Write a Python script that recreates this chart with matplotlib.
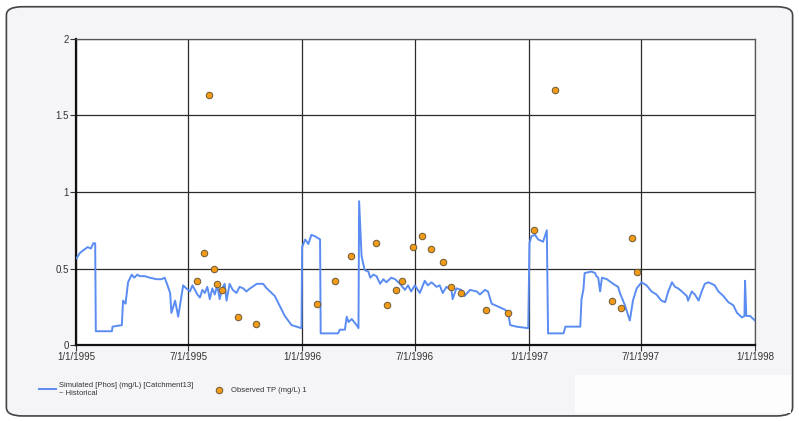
import matplotlib
matplotlib.use("Agg")
import matplotlib.pyplot as plt
import matplotlib.dates as mdates
import pandas as pd
from matplotlib.patches import FancyBboxPatch, Rectangle

# days since 1/1/1995, simulated phosphorus (mg/L)
sim_day = [1, 6, 12, 19, 24, 28, 31, 32, 58, 59, 74, 76, 80, 84, 90, 94, 99, 103,
           111, 119, 130, 138, 143, 146, 152, 154, 160, 165, 173, 178, 184, 188,
           192, 196, 200, 204, 208, 212, 216, 220, 224, 228, 232, 236, 240, 243,
           248, 253, 259, 264, 270, 275, 281, 292, 302, 308, 321,
           332, 337, 348, 364, 365, 370, 375, 380, 386, 394, 395, 423, 426, 434,
           437, 440, 445, 453, 456, 457, 461, 466, 472, 475, 480, 485, 491, 496,
           501, 509, 515, 523, 531, 536, 541, 547, 555, 560, 563, 568, 574, 582,
           587, 592, 598, 606, 608, 614, 622, 627, 636, 647, 652, 660, 665, 671,
           682, 693, 698, 701, 711, 730, 732, 735, 741, 746, 754, 760, 762, 787,
           790, 814, 816, 819, 821, 832, 838, 840, 843, 846, 849, 857, 867, 875,
           878, 886, 894, 899, 905, 913, 921, 929, 937, 945, 951, 956, 962, 967,
           972, 978, 986, 988, 994, 999, 1005, 1010, 1015, 1021, 1031, 1037, 1045,
           1053, 1061, 1067, 1075, 1079, 1080, 1082, 1088, 1096]
sim_val = [0.567, 0.60, 0.62, 0.64, 0.63, 0.665, 0.665, 0.09, 0.09, 0.12, 0.13, 0.29,
           0.27, 0.41, 0.46, 0.44, 0.46, 0.45, 0.45, 0.44, 0.43, 0.43, 0.44, 0.41,
           0.34, 0.21, 0.29, 0.185, 0.39, 0.37, 0.35, 0.39, 0.36, 0.33, 0.31, 0.36,
           0.34, 0.38, 0.30, 0.37, 0.33, 0.39, 0.30, 0.37, 0.40, 0.29,
           0.40, 0.36, 0.34, 0.38, 0.37, 0.35, 0.37, 0.40, 0.40, 0.37, 0.32, 0.23, 0.19,
           0.13, 0.11, 0.64, 0.69, 0.66, 0.72, 0.71, 0.69, 0.076, 0.076, 0.10, 0.10,
           0.185, 0.15, 0.17, 0.13, 0.11, 0.94, 0.58, 0.49, 0.48, 0.44, 0.46, 0.45,
           0.40, 0.43, 0.41, 0.44, 0.43, 0.40, 0.36, 0.39, 0.35, 0.39, 0.34, 0.39,
           0.42, 0.39, 0.41, 0.38, 0.39, 0.34, 0.38, 0.36, 0.30, 0.37, 0.36, 0.32,
           0.36, 0.35, 0.33, 0.36, 0.35, 0.27, 0.25, 0.23, 0.196, 0.13, 0.12, 0.11,
           0.665, 0.71, 0.72, 0.69, 0.675, 0.75, 0.076, 0.076, 0.12, 0.12, 0.30,
           0.36, 0.47, 0.48, 0.47, 0.45, 0.44, 0.35, 0.44, 0.43, 0.40, 0.38, 0.34,
           0.26, 0.16, 0.29, 0.37, 0.41, 0.39, 0.35, 0.33, 0.29, 0.28, 0.35, 0.41,
           0.38, 0.37, 0.35, 0.32, 0.29, 0.35, 0.33, 0.29, 0.35, 0.40, 0.41, 0.39,
           0.35, 0.32, 0.28, 0.26, 0.21, 0.18, 0.19, 0.42, 0.19, 0.19, 0.16]

# days since 1/1/1995, observed TP (mg/L)
obs_day = [195, 207, 215, 223, 227, 236, 262, 290, 389, 418, 444, 485, 502, 516,
           527, 544, 558, 573, 593, 606, 621, 662, 698, 740, 774, 865, 879, 897, 905]
obs_val = [0.42, 0.60, 1.634, 0.50, 0.40, 0.36, 0.185, 0.14, 0.27, 0.42, 0.58, 0.665,
           0.26, 0.36, 0.42, 0.64, 0.71, 0.63, 0.54, 0.38, 0.34, 0.23, 0.21, 0.75,
           1.667, 0.29, 0.24, 0.70, 0.48]

tick_dates = ["1995-01-01", "1995-07-01", "1996-01-01", "1996-07-01",
              "1997-01-01", "1997-07-01", "1998-01-01"]
y_ticks = [0, 0.5, 1, 1.5, 2]

start = pd.Timestamp("1995-01-01")
sim_t = start + pd.to_timedelta(sim_day, unit="D")
obs_t = start + pd.to_timedelta(obs_day, unit="D")
ticks = pd.to_datetime(tick_dates)

plt.rcParams["font.family"] = ["Liberation Sans", "DejaVu Sans"]

fig = plt.figure(figsize=(7.99, 4.21), dpi=100)
fig.patch.set_facecolor("white")

frame = FancyBboxPatch((0.008, 0.012), 0.984, 0.972, boxstyle="round,pad=0,rounding_size=0.02",
                       transform=fig.transFigure, facecolor="#f5f4f7", edgecolor="#444444",
                       linewidth=1.2, zorder=-2)
fig.patches.append(frame)
fig.patches.append(Rectangle((0.72, 0.02), 0.27, 0.09, transform=fig.transFigure,
                             facecolor="#fdfdfd", edgecolor="none", zorder=-1))

ax = fig.add_axes([0.0951, 0.1805, 0.8498, 0.7269])
ax.set_zorder(1)
ax.set_facecolor("white")

line, = ax.plot(sim_t, sim_val, color="#5a8cf2", linewidth=1.4, zorder=3,
                label="Simulated [Phos] (mg/L) [Catchment13]\n~ Historical")
pts = ax.scatter(obs_t, obs_val, s=22, color="#f39a16", edgecolor="#6b5a3a",
                 linewidth=0.7, zorder=4, label="Observed TP (mg/L) 1")

ax.set_xlim(ticks[0], ticks[-1])
ax.set_ylim(0, 2)
ax.set_xticks(ticks)
ax.xaxis.set_major_formatter(mdates.DateFormatter("%-m/%-d/%Y"))
ax.set_yticks(y_ticks)
ax.set_yticklabels(["0", "0.5", "1", "1.5", "2"])
ax.grid(True, color="#2a2a2a", linewidth=0.9)
ax.set_axisbelow(True)

for side in ["top", "right"]:
    ax.spines[side].set_color("#555555")
    ax.spines[side].set_linewidth(0.9)
for side in ["left", "bottom"]:
    ax.spines[side].set_color("#111111")
    ax.spines[side].set_linewidth(1.6)

ax.tick_params(axis="both", labelsize=7, colors="#333333", length=4, width=0.8, pad=1)

ax.legend(handles=[line, pts], loc="upper left", bbox_to_anchor=(0.04, 0.11),
          bbox_transform=fig.transFigure, ncol=2, frameon=False, fontsize=5.5,
          handlelength=2.2, columnspacing=2.2, handletextpad=0.5, labelcolor="#333333")

fig.savefig("out.png", dpi=100)
